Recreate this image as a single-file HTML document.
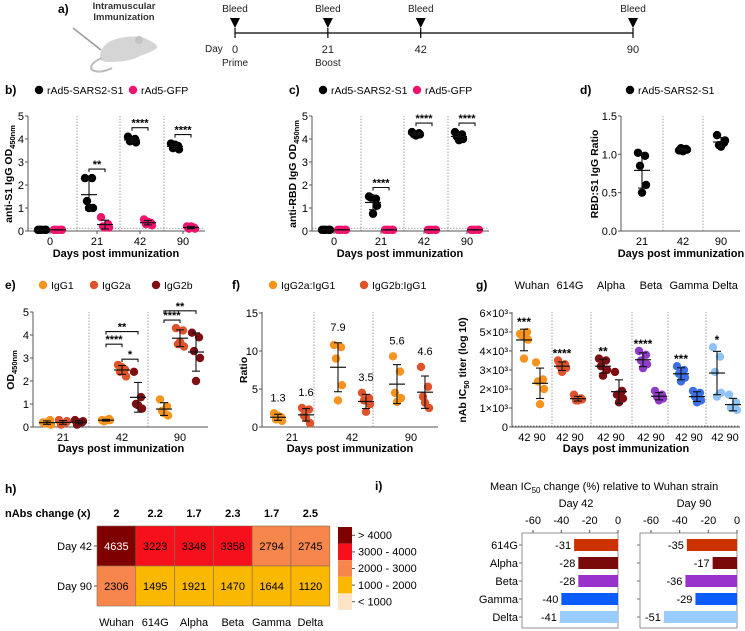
<!DOCTYPE html>
<html><head><meta charset="utf-8"><style>
html,body{margin:0;padding:0;background:#fff}
svg{display:block;font-family:"Liberation Sans",Arial,sans-serif}
</style></head><body>
<svg id="fig" width="745" height="631" viewBox="0 0 745 631" xmlns="http://www.w3.org/2000/svg">
<g>
<text x="58" y="13" font-size="12" font-weight="bold">a)</text>
<text x="124" y="9" font-size="9.5" font-weight="bold" fill="#333" text-anchor="middle">Intramuscular</text>
<text x="124" y="20" font-size="9.5" font-weight="bold" fill="#333" text-anchor="middle">Immunization</text>
<g>
<line x1="73" y1="28" x2="101" y2="50" stroke="#999" stroke-width="1.5"/>
<path d="M100 58 Q100 42 120 38 Q140 34 148 40 Q158 44 157 48 Q150 53 140 56 Q130 62 110 62 Q100 62 100 58Z" fill="#d5d5d5"/>
<circle cx="139" cy="40" r="4" fill="#c4c4c4"/>
<path d="M102 58 Q88 64 92 70 Q100 74 112 68" fill="none" stroke="#bbb" stroke-width="2"/>
</g>
<line x1="235" y1="33" x2="633" y2="33" stroke="#000" stroke-width="1.2"/>
</g>
<g>
<text x="5" y="493" font-size="12" font-weight="bold">h)</text>
<text x="5" y="517" font-size="11" font-weight="bold">nAbs change (x)</text>
</g>
<g>
<text x="375" y="490" font-size="12" font-weight="bold">i)</text>
<text x="490" y="490" font-size="11">Mean IC<tspan font-size="8" dy="3">50</tspan><tspan dy="-3"> change (%) relative to Wuhan strain</tspan></text>
<text x="576" y="507" font-size="11" text-anchor="middle">Day 42</text>
<text x="694" y="507" font-size="11" text-anchor="middle">Day 90</text>
</g>
</svg>
<script>
// ---------- DATA ----------
const timelineDays=[0,21,42,90];
const bDays=["0","21","42","90"];
const bS1=[[0.05,0.05,0.05,0.05,0.05],[2.3,2.3,1.3,1.0,1.0],[4.1,4.0,3.9,3.85,3.95],[3.8,3.7,3.6,3.55,3.75]];
const bGFP=[[0.05,0.05,0.05,0.05,0.05],[0.6,0.3,0.2,0.15,0.15],[0.5,0.35,0.3,0.25,0.4],[0.2,0.15,0.1,0.1,0.2]];
const bStars=["","**","****","****"];
const cS1=[[0.05,0.05,0.05,0.05,0.05],[1.5,1.4,1.45,1.1,0.75],[4.3,4.25,4.2,4.2,4.15],[4.3,4.2,4.1,4.0,3.95]];
const cGFP=[[0.05,0.05,0.05,0.05,0.05],[0.05,0.05,0.05,0.05,0.05],[0.05,0.05,0.05,0.05,0.05],[0.05,0.05,0.05,0.05,0.05]];
const cStars=["","****","****","****"];
const dDays=["21","42","90"];
const dRatio=[[1.02,0.98,0.85,0.6,0.5],[1.05,1.07,1.08,1.06,1.04],[1.25,1.15,1.12,1.18,1.1]];
const eIgG1=[[0.2,0.3,0.15,0.1,0.2],[0.3,0.35,0.25,0.3,0.28],[1.2,0.9,0.7,0.5,0.6]];
const eIgG2a=[[0.3,0.2,0.1,0.25,0.15],[2.7,2.5,2.4,2.2,2.6],[4.3,4.2,3.6,3.5,3.7]];
const eIgG2b=[[0.3,0.2,0.1,0.25,0.2],[2.4,1.3,1.0,0.8,0.95],[4.1,3.9,3.3,3.0,2.0]];
const fG2a=[[1.8,1.3,1.0,0.8,1.5],[10.8,10.5,9.0,5.5,3.5],[9.3,7.3,4.5,3.8,3.3]];
const fG2b=[[2.5,2.3,1.5,0.5,1.2],[4.5,3.8,3.5,3.0,2.0],[7.9,5.3,4.0,2.5,3.2]];
const fLabels=[["1.3","1.6"],["7.9","3.5"],["5.6","4.6"]];
const variants=["Wuhan","614G","Alpha","Beta","Gamma","Delta"];
const g42=[[4.9,5.0,4.8,4.6,3.6],[3.5,3.3,3.2,3.1,2.9],[3.6,3.5,3.2,3.0,2.7],[4.0,3.8,3.5,3.3,3.1],[3.2,3.0,2.8,2.6,2.4],[4.2,3.7,2.9,1.8,1.6]];
const g90=[[3.4,2.5,2.4,2.0,1.2],[1.7,1.5,1.4,1.45,1.4],[2.9,1.9,1.7,1.5,1.3],[1.9,1.7,1.6,1.5,1.4],[1.9,1.8,1.6,1.4,1.3],[1.7,1.3,1.0,0.9,1.0]];
const gStars=["***","****","**","****","***","*"];
const gTicks=[0,1,2,3,4,5,6];
const hRows=["Day 42","Day 90"];
const hDay42=[4635,3223,3348,3358,2794,2745];
const hDay90=[2306,1495,1921,1470,1644,1120];
const hChange=["2","2.2","1.7","2.3","1.7","2.5"];
const hLegend=["> 4000","3000 - 4000","2000 - 3000","1000 - 2000","< 1000"];
const iVariants=["614G","Alpha","Beta","Gamma","Delta"];
const iDay42=[-31,-28,-28,-40,-41];
const iDay90=[-35,-17,-36,-29,-51];
const iTicks=[-60,-40,-20,0];

// ---------- helpers ----------
const NS='http://www.w3.org/2000/svg';
const svg=document.getElementById('fig');
function mk(tag,a,p){const e=document.createElementNS(NS,tag);for(const k in a)e.setAttribute(k,a[k]);(p||svg).appendChild(e);return e;}
function txt(x,y,s,size,opts,p){const t=mk('text',Object.assign({x:x,y:y,'font-size':size},opts||{}),p);t.textContent=s;return t;}
const mean=a=>a.reduce((s,v)=>s+v,0)/a.length;
const sd=a=>{const m=mean(a);return Math.sqrt(a.reduce((s,v)=>s+(v-m)*(v-m),0)/(a.length-1));};
const jit=[-4,3,-2,4,0];

function axes(p,ax,xEnd,y0,yTop,tickVals,tickLabels,ys,name){
  const g=mk('g',{},p);
  
  
  mk('line',{x1:ax,y1:yTop,x2:ax,y2:y0,stroke:'#555','stroke-width':1},g);
  mk('line',{x1:ax,y1:y0,x2:xEnd,y2:y0,stroke:'#555','stroke-width':1},g);
  tickVals.forEach((v,i)=>{const y=ys(v);
    mk('line',{x1:ax-3,y1:y,x2:ax,y2:y,stroke:'#555'},g);
    const t=txt(ax-4,y+4,tickLabels[i],11,{'text-anchor':'end'},g);
    
    
  });
}
function divider(x,y1,y2,p){const l=mk('line',{x1:x,y1:y1,x2:x,y2:y2,stroke:'#888','stroke-dasharray':'1.5,1.5','stroke-width':0.8},p);
  
  }
function group(p,cx,vals,ys,color,name){
  const g=mk('g',{},p);
  
  
  vals.forEach((v,i)=>{const c=mk('circle',{cx:cx+jit[i],cy:ys(v),r:4.2,fill:color},g);
    
    });
  const m=mean(vals),s=sd(vals);
  const ym=ys(m),yh=ys(m+s),yl=ys(Math.max(0,m-s));
  mk('line',{x1:cx-8,y1:ym,x2:cx+8,y2:ym,stroke:'#111','stroke-width':1.2},g);
  mk('line',{x1:cx,y1:yh,x2:cx,y2:yl,stroke:'#111','stroke-width':1.1},g);
  mk('line',{x1:cx-4,y1:yh,x2:cx+4,y2:yh,stroke:'#111','stroke-width':1.1},g);
  mk('line',{x1:cx-4,y1:yl,x2:cx+4,y2:yl,stroke:'#111','stroke-width':1.1},g);
  return {m:m,s:s};
}
function bracket(p,x1,x2,y,label){
  mk('path',{d:`M${x1} ${y+3}V${y}H${x2}V${y+3}`,fill:'none',stroke:'#111','stroke-width':1.1},p);
  const t=txt((x1+x2)/2,y-1,label,11,{'text-anchor':'middle','font-weight':'bold'},p);
  
  
}
function legendItem(p,x,y,color,label,name){
  const c=mk('circle',{cx:x,cy:y-4,r:4.2,fill:color},p);
  
  
  const t=txt(x+8,y,label,10.5,{},p);
  
  
}
function panelLabel(x,y,s,name){const t=txt(x,y,s,12,{'font-weight':'bold'});
  
  }
function yTitle(x,y,parts,name){
  const t=mk('text',{x:0,y:0,'font-size':10.5,'font-weight':'bold','text-anchor':'middle',transform:`translate(${x},${y}) rotate(-90)`});
  
  
  parts.forEach(pt=>{const s=mk('tspan',pt.sub?{'font-size':7.5,dy:3}:(pt.after?{dy:-3}:{}),t);s.textContent=pt.s;});
}
function xTitle(x,y,name){const t=txt(x,y,'Days post immunization',11,{'text-anchor':'middle','font-weight':'bold'});
  
  }

// ---------- Panel a timeline ----------
const tlX=d=>235+d*(633-235)/90;
timelineDays.forEach((d,i)=>{
  const x=tlX(d);
  const tri=mk('path',{d:`M${x-5} 18L${x+5} 18L${x} 28Z`,fill:'#000'});
  
  
  mk('line',{x1:x,y1:28,x2:x,y2:38,stroke:'#000','stroke-width':1.2});
  const b=txt(x,12,'Bleed',10,{'text-anchor':'middle',fill:'#222'});
  
  
  const l=txt(x,53,String(d),11,{'text-anchor':'middle',fill:'#222'});
  
  
});
{const t=txt(205,52,'Day',10,{fill:'#222'});
 const p1=txt(tlX(0),66,'Prime',10,{'text-anchor':'middle',fill:'#222'});
 const p2=txt(tlX(21),66,'Boost',10,{'text-anchor':'middle',fill:'#222'});}

// ---------- Panels b and c ----------
function odPanel(off,s1,gfp,stars,letter,title){
  const p=mk('g',{});
  
  
  const ax=28+off,xEnd=205+off,y0=231;
  const ys=v=>y0-v*23;
  panelLabel(5+off,94,letter+')','panel-'+letter+'-label');
  legendItem(p,39+off,94,'#000','rAd5-SARS2-S1','legend-rad5-s1');
  legendItem(p,133+off,94,'#f0146e','rAd5-GFP','legend-rad5-gfp');
  [77,120,164].forEach(x=>divider(x+off,y0,116,p));
  mk('line',{x1:ax,y1:ys(0.12),x2:xEnd,y2:ys(0.12),stroke:'#888','stroke-dasharray':'1.5,1.5','stroke-width':0.8},p);
  axes(p,ax,xEnd,y0,116,[0,1,2,3,4,5],['0','1','2','3','4','5'],ys,'panel-'+letter);
  const cen=[50,97,140,183].map(x=>x+off);
  bDays.forEach((d,i)=>{
    group(p,cen[i]-8,s1[i],ys,'#000','s1-day'+d);
    group(p,cen[i]+8,gfp[i],ys,'#f0146e','gfp-day'+d);
    mk('line',{x1:cen[i],y1:y0,x2:cen[i],y2:y0+3,stroke:'#555'},p);
    const t=txt(cen[i],y0+14,d,11,{'text-anchor':'middle'},p);
    
    
    if(stars[i]) bracket(p,cen[i]-8,cen[i]+8,ys(Math.max(...s1[i]))-9,stars[i]);
  });
  xTitle(116+off,257,'panel-'+letter+'-x-title');
  yTitle(12+off,174,title,'panel-'+letter+'-y-title');
}
odPanel(0,bS1,bGFP,bStars,'b',[{s:'anti-S1 IgG OD'},{s:'450nm',sub:1}]);
odPanel(284,cS1,cGFP,cStars,'c',[{s:'anti-RBD IgG OD'},{s:'450nm',sub:1}]);

// ---------- Panel d ----------
{const p=mk('g',{});
 
 
 const ax=621,xEnd=740,y0=231,ys=v=>y0-v*76.7;
 panelLabel(580,94,'d)','panel-d-label');
 legendItem(p,630,94,'#000','rAd5-SARS2-S1','legend-d-rad5-s1');
 [663,703].forEach(x=>divider(x,y0,116,p));
 axes(p,ax,xEnd,y0,116,[0,0.5,1,1.5],['0.0','0.5','1.0','1.5'],ys,'panel-d');
 const cen=[642,683,721];
 dDays.forEach((d,i)=>{group(p,cen[i],dRatio[i],ys,'#000','ratio-day'+d);
   const t=txt(cen[i],y0+14,d,11,{'text-anchor':'middle'},p);
   
   });
 xTitle(681,257,'panel-d-x-title');
 yTitle(598,174,[{s:'RBD:S1 IgG Ratio'}],'panel-d-y-title');}

// ---------- Panel e ----------
{const p=mk('g',{});
 
 
 const ax=33,xEnd=208,y0=427,ys=v=>y0-v*23;
 const cols=['#f7931e','#e0522a','#7d0e12'];
 panelLabel(5,289,'e)','panel-e-label');
 legendItem(p,43,289,cols[0],'IgG1','legend-igg1');
 legendItem(p,94,289,cols[1],'IgG2a','legend-igg2a');
 legendItem(p,156,289,cols[2],'IgG2b','legend-igg2b');
 [89,148].forEach(x=>divider(x,y0,312,p));
 axes(p,ax,xEnd,y0,312,[0,1,2,3,4,5],['0','1','2','3','4','5'],ys,'panel-e');
 const cen=[63,122,180];
 dDays.forEach((d,i)=>{
   group(p,cen[i]-16,eIgG1[i],ys,cols[0],'igg1-day'+d);
   group(p,cen[i],eIgG2a[i],ys,cols[1],'igg2a-day'+d);
   group(p,cen[i]+16,eIgG2b[i],ys,cols[2],'igg2b-day'+d);
   const t=txt(cen[i],y0+14,d,11,{'text-anchor':'middle'},p);
   
   });
 bracket(p,cen[1]-16,cen[1]+16,ys(4.15),'**');
 bracket(p,cen[1]-16,cen[1],ys(3.6),'****');
 bracket(p,cen[1],cen[1]+16,ys(2.95),'*');
 bracket(p,cen[2]-16,cen[2]+16,ys(5.05),'**');
 bracket(p,cen[2]-16,cen[2],ys(4.65),'****');
 xTitle(121,452,'panel-e-x-title');
 yTitle(14,370,[{s:'OD'},{s:'450nm',sub:1}],'panel-e-y-title');}

// ---------- Panel f ----------
{const p=mk('g',{});
 
 
 const ax=262,xEnd=438,y0=427,ys=v=>y0-v*7.6;
 const cols=['#f7931e','#e0522a'];
 panelLabel(232,289,'f)','panel-f-label');
 legendItem(p,273,289,cols[0],'IgG2a:IgG1','legend-igg2a-igg1');
 legendItem(p,364,289,cols[1],'IgG2b:IgG1','legend-igg2b-igg1');
 [314,373].forEach(x=>divider(x,y0,312,p));
 axes(p,ax,xEnd,y0,312,[0,5,10,15],['0','5','10','15'],ys,'panel-f');
 const cen=[292,352,411];
 dDays.forEach((d,i)=>{
   const a=group(p,cen[i]-14,fG2a[i],ys,cols[0],'ratio-g2a-day'+d);
   const b=group(p,cen[i]+14,fG2b[i],ys,cols[1],'ratio-g2b-day'+d);
   const t1=txt(cen[i]-14,ys(Math.max(a.m+a.s,Math.max(...fG2a[i])))-12,fLabels[i][0],11,{'text-anchor':'middle'},p);
   
   
   const t2=txt(cen[i]+14,ys(Math.max(b.m+b.s,Math.max(...fG2b[i])))-12,fLabels[i][1],11,{'text-anchor':'middle'},p);
   
   
   const t=txt(cen[i],y0+14,d,11,{'text-anchor':'middle'},p);
   
   });
 xTitle(350,452,'panel-f-x-title');
 yTitle(247,370,[{s:'Ratio'}],'panel-f-y-title');}

// ---------- Panel g ----------
{const p=mk('g',{});
 
 
 const ax=512,xEnd=740,y0=427,ys=v=>y0-v*19;
 const cols=['#f7931e','#e0522a','#7d0e12','#8e3cc8','#3d6fe8','#8fc3f5'];
 panelLabel(476,289,'g)','panel-g-label');
 const centers=[532,570,611,651,689,725];
 const divs=[552,591,632,668,706];
 divs.forEach(x=>divider(x,y0,312,p));
 mk('line',{x1:ax,y1:ys(0.05),x2:xEnd,y2:ys(0.05),stroke:'#666','stroke-dasharray':'1.5,1.5','stroke-width':0.8},p);
 axes(p,ax,xEnd,y0,312,gTicks,gTicks.map(v=>v?v+'\u00d710\u00b3':'0'),ys,'panel-g');
 variants.forEach((v,i)=>{
   const c=centers[i];
   const a=group(p,c-8,g42[i],ys,cols[i],v.toLowerCase()+'-day42');
   group(p,c+8,g90[i],ys,cols[i],v.toLowerCase()+'-day90');
   const s=txt(c-8,ys(Math.max(a.m+a.s,Math.max(...g42[i])))-3,gStars[i],12,{'text-anchor':'middle','font-weight':'bold'},p);
   
   
   const vl=txt(c,289,v,11,{'text-anchor':'middle'},p);
   
   
   const t=txt(c,y0+14,'42 90',11,{'text-anchor':'middle'},p);
   
   });
 xTitle(626,452,'panel-g-x-title');
 yTitle(466,370,[{s:'nAb IC'},{s:'50',sub:1},{s:' titer  (log 10)',after:1}],'panel-g-y-title');}

// ---------- Panel h heatmap ----------
{const p=mk('g',{});
 
 
 const hx=97,hy=526,cw=38.8,rh=40;
 const colFor=v=>v>4000?'#7f0000':v>3000?'#f5101c':v>2000?'#f6864c':v>1000?'#fbb800':'#fde3c8';
 [hDay42,hDay90].forEach((row,r)=>{
   const rl=txt(hx-5,hy+r*rh+rh/2+4,hRows[r],11,{'text-anchor':'end'},p);
   
   
   mk('line',{x1:hx-3,y1:hy+r*rh+rh/2,x2:hx,y2:hy+r*rh+rh/2,stroke:'#555'},p);
   row.forEach((v,c)=>{
     const rc=mk('rect',{x:hx+c*cw,y:hy+r*rh,width:cw,height:rh,fill:colFor(v),stroke:'#8a6a50','stroke-width':0.6},p);
     
     
     const t=txt(hx+c*cw+cw/2,hy+r*rh+rh/2+4,String(v),11,{'text-anchor':'middle',fill:v>4000?'#fff':'#000'},p);
     
     });
 });
 variants.forEach((v,c)=>{
   const t=txt(hx+c*cw+cw/2,626,v,11,{'text-anchor':'middle'},p);
   
   
   const ch=txt(hx+c*cw+cw/2,517,hChange[c],11,{'text-anchor':'middle','font-weight':'bold'},p);
   
   });
 const lc=['#7f0000','#f5101c','#f6864c','#fbb800','#fde3c8'];
 hLegend.forEach((l,i)=>{
   const r=mk('rect',{x:338,y:527+i*16.6,width:14,height:16.6,fill:lc[i]},p);
   
   
   mk('line',{x1:352,y1:527+i*16.6+8.3,x2:355,y2:527+i*16.6+8.3,stroke:'#555'},p);
   const t=txt(358,527+i*16.6+12,l,11,{},p);
   
   });
}

// ---------- Panel i bars ----------
function barPanel(x0,x1,vals,showLabels,name){
  const p=mk('g',{});
  
  
  const xs=v=>x1+v*(x1-(x0+11))/60;
  const cols=['#cc3300','#7a0a0a','#9932cc','#0a5cff','#99ccff'];
  mk('rect',{x:x0,y:533,width:x1-x0,height:95,fill:'none',stroke:'#777','stroke-width':0.8},p);
  iTicks.forEach(t=>{const x=xs(t);
    mk('line',{x1:x,y1:530,x2:x,y2:533,stroke:'#555'},p);
    const l=txt(x,524,String(t),11,{'text-anchor':'middle'},p);
    
    });
  vals.forEach((v,i)=>{const y=545+i*18;
    const r=mk('rect',{x:xs(v),y:y-6,width:xs(0)-xs(v),height:12,fill:cols[i]},p);
    
    
    const t=txt(xs(v)-3,y+4,String(v),11,{'text-anchor':'end'},p);
    
    
    mk('line',{x1:x0-3,y1:y,x2:x0,y2:y,stroke:'#777'},p);
    if(showLabels){const c=txt(x0-4,y+4,iVariants[i],11,{'text-anchor':'end'},p);
      
      }
  });
}
barPanel(522,618,iDay42,true,'bar-chart-day42');
barPanel(640,737,iDay90,false,'bar-chart-day90');
</script>
</body></html>
